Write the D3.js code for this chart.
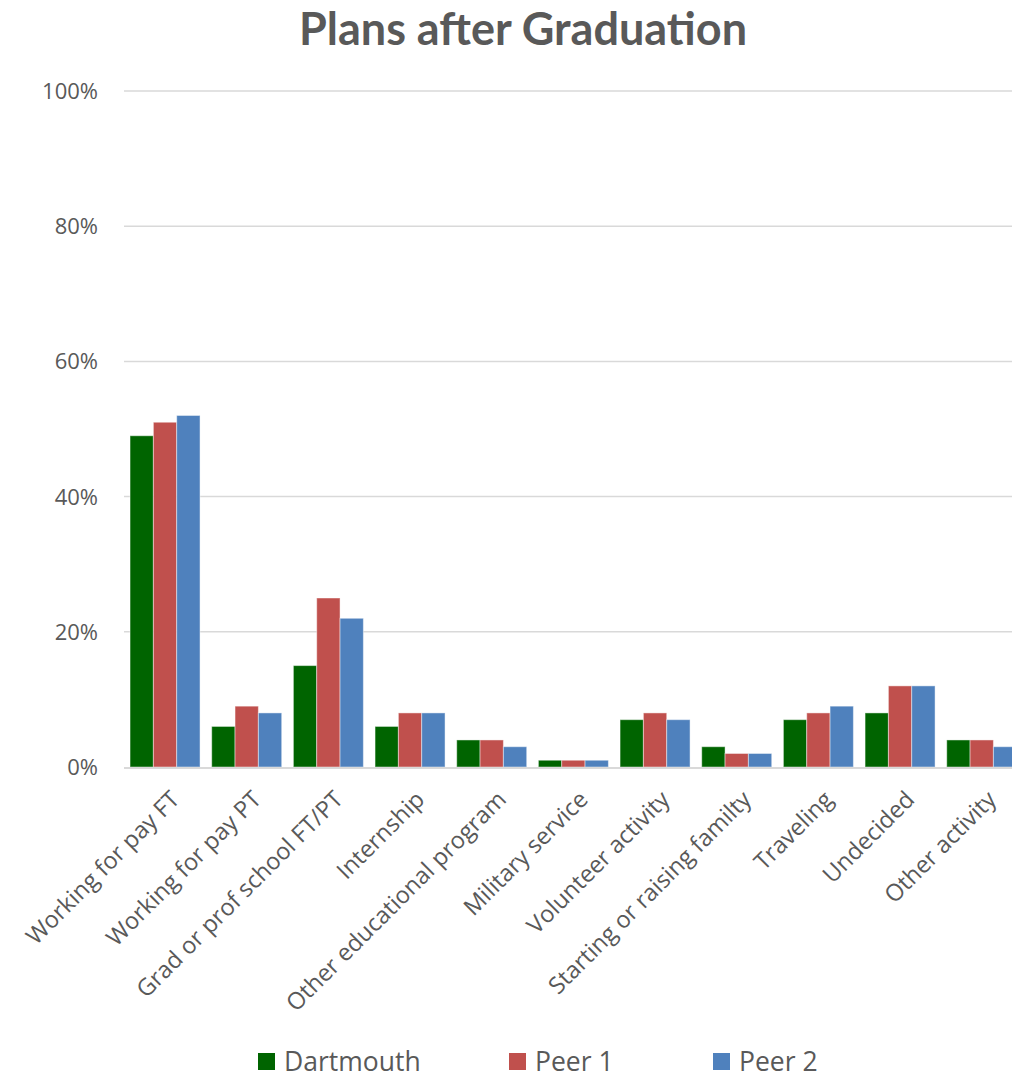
<!DOCTYPE html>
<html><head><meta charset="utf-8">
<script src="https://cdn.jsdelivr.net/npm/d3@7"></script>
<style>body{margin:0;background:#fff;} svg{display:block;}</style>
</head><body>
<script>
const categories = ["Working for pay FT","Working for pay PT","Grad or prof school FT/PT","Internship","Other educational program","Military service","Volunteer activity","Starting or raising familty","Traveling","Undecided","Other activity"];
const seriesNames = ["Dartmouth","Peer 1","Peer 2"];
const dartmouth = [49,6,15,6,4,1,7,3,7,8,4];
const peer1 = [51,9,25,8,4,1,8,2,8,12,4];
const peer2 = [52,8,22,8,3,1,7,2,9,12,3];
const yTicks = [0,20,40,60,80,100];
const colors = ["#006400","#C0504D","#4F81BD"];
const series = [dartmouth, peer1, peer2];

const W = 1012, H = 1072;
const svg = d3.select("body").append("svg").attr("width", W).attr("height", H);
const font = "'Open Sans', sans-serif";
const txt = "#595959";

const x0 = d3.scaleBand().domain(categories).range([124.2, 124.2 + 11*81.67]).paddingInner(0.143).paddingOuter(0.0715);
const x1 = d3.scaleBand().domain(seriesNames).range([0, x0.bandwidth()]);
const y = d3.scaleLinear().domain([0,100]).range([767, 91]);

svg.append("text").attr("x", 523).attr("y", 45).attr("text-anchor","middle")
  .attr("font-family", "Lato, sans-serif").attr("font-weight","bold").attr("font-size", 45).attr("fill", txt)
  .text("Plans after Graduation");

// gridlines
svg.append("g").selectAll("line").data(yTicks.filter(d=>d>0)).join("line")
  .attr("x1", 124).attr("x2", W).attr("y1", d=>y(d)).attr("y2", d=>y(d))
  .attr("stroke", "#d9d9d9").attr("stroke-width", 1.5);

// y labels
svg.append("g").selectAll("text").data(yTicks).join("text")
  .attr("x", 98).attr("y", d=>y(d)).attr("dy","0.36em").attr("text-anchor","end")
  .attr("font-family", font).attr("font-size", 22).attr("fill", txt)
  .text(d=>d+"%");

// bars
const g = svg.append("g");
categories.forEach((c,i)=>{
  series.forEach((s,j)=>{
    g.append("rect").attr("x", x0(c)+x1(seriesNames[j])).attr("width", x1.bandwidth())
      .attr("y", y(s[i])).attr("height", y(0)-y(s[i]))
      .attr("fill", colors[j]).attr("stroke","rgba(255,255,255,0.45)").attr("stroke-width",1);
  });
});

// baseline
svg.append("line").attr("x1",124).attr("x2",W).attr("y1",y(0)+1).attr("y2",y(0)+1)
  .attr("stroke","#d9d9d9").attr("stroke-width",2);

// x labels
svg.append("g").selectAll("text").data(categories).join("text")
  .attr("transform", d=>`translate(${x0(d)+x0.bandwidth()/2+4},${789}) rotate(-45)`)
  .attr("text-anchor","end").attr("dy","0.72em")
  .attr("font-family", font).attr("font-size", 23.5).attr("fill", txt)
  .text(d=>d);

// legend
const legX = [258, 509, 713];
const leg = svg.append("g");
seriesNames.forEach((n,j)=>{
  leg.append("rect").attr("x", legX[j]).attr("y", 1053).attr("width",17).attr("height",17).attr("fill", colors[j]);
  leg.append("text").attr("x", legX[j]+26).attr("y", 1071).attr("font-family", font).attr("font-size", 26.5).attr("fill", txt).text(n);
});
</script>
</body></html>
